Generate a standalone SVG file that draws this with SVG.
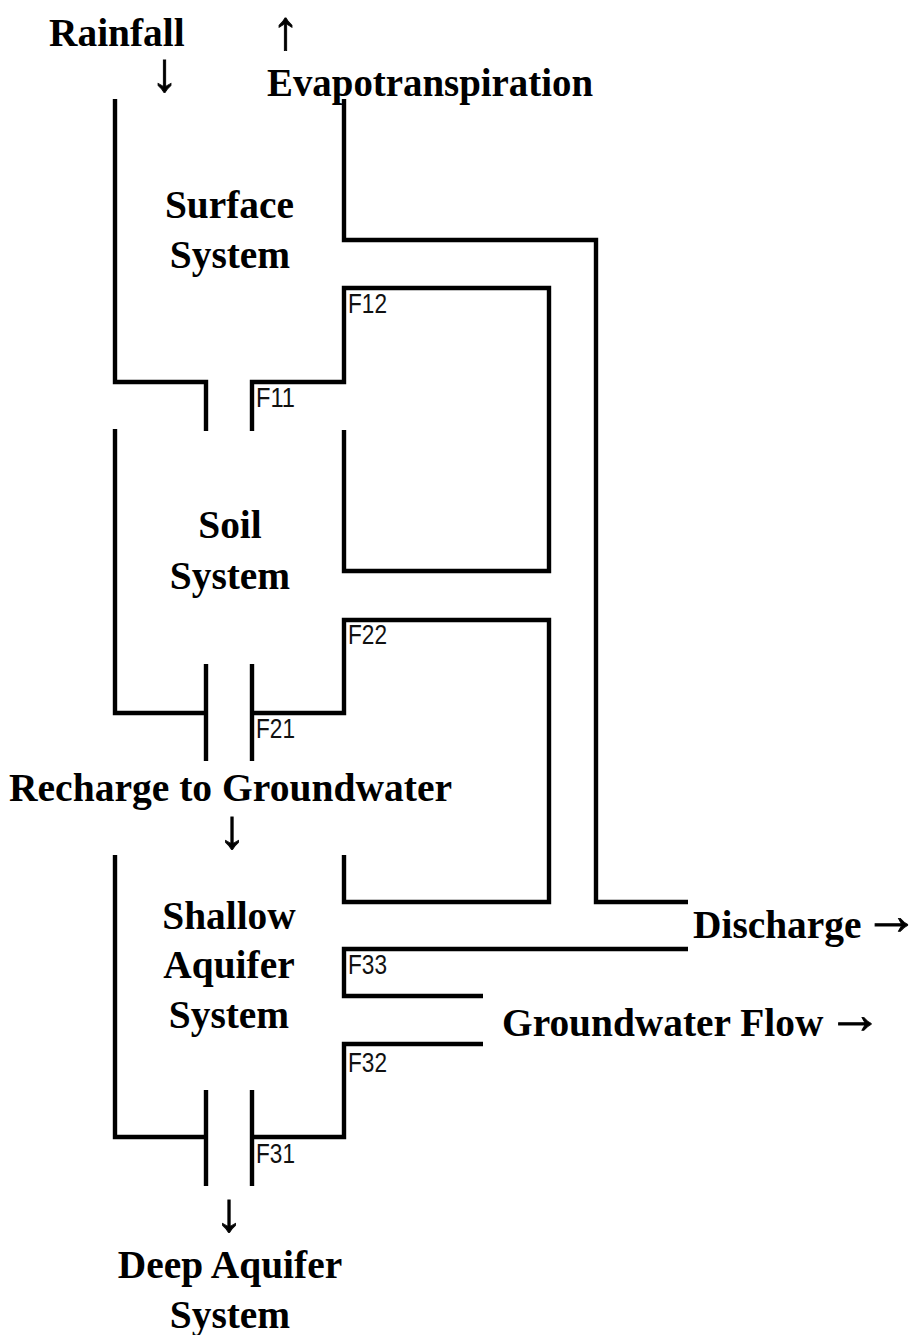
<svg xmlns="http://www.w3.org/2000/svg" width="914" height="1335" viewBox="0 0 914 1335">
<style>
.l{fill:none;stroke:#000;stroke-width:4.4;stroke-linecap:butt;stroke-linejoin:miter}
.t{font-family:"Liberation Serif",serif;font-weight:bold;font-size:39.4px;fill:#000}
.m{text-anchor:middle}
.f{font-family:"Liberation Sans",sans-serif;font-size:27px;fill:#111}
.a{font-family:"Liberation Serif",serif;font-weight:bold;font-size:55px;fill:#000;stroke:#000;stroke-width:.9;text-anchor:middle}
</style>
<rect width="914" height="1335" fill="#fff"/>
<g id="connectors">
<path class="l" d="M115 99V382H206V431"/>
<path class="l" d="M344 99V240H596V902H688"/>
<path class="l" d="M252 431V382H344V288H549V571H344V430"/>
<path class="l" d="M115 429V713H206M206 664V761"/>
<path class="l" d="M252 761V664M252 713H344V620H549V902H344V855"/>
<path class="l" d="M115 855V1137H206M206 1090V1186"/>
<path class="l" d="M252 1186V1090M252 1137H344V1044H483"/>
<path class="l" d="M688 949H344V996H483"/>
</g>
<g id="rainfall"><text class="t" x="49" y="46">Rainfall</text><text class="a" x="164.500" y="91">↓</text></g>
<g id="evapotranspiration"><text class="a" x="285.500" y="49">↑</text><text class="t" x="267" y="96" textLength="326" lengthAdjust="spacingAndGlyphs">Evapotranspiration</text></g>
<g id="surface-system"><text class="t m" x="229.500" y="218">Surface</text><text class="t m" x="230" y="268">System</text></g>
<g id="soil-system"><text class="t m" x="230" y="538">Soil</text><text class="t m" x="230" y="589">System</text></g>
<g id="recharge"><text class="t" x="9" y="801" textLength="443" lengthAdjust="spacingAndGlyphs">Recharge to Groundwater</text><text class="a" x="232" y="848">↓</text></g>
<g id="shallow-aquifer-system"><text class="t m" x="229" y="929">Shallow</text><text class="t m" x="229" y="978">Aquifer</text><text class="t m" x="229" y="1028">System</text></g>
<g id="discharge"><text class="t" x="693" y="938">Discharge</text><text class="a" x="891.500" y="934">→</text></g>
<g id="groundwater-flow"><text class="t" x="502" y="1036">Groundwater Flow</text><text class="a" x="855" y="1033">→</text></g>
<g id="deep-aquifer-system"><text class="a" x="229" y="1231">↓</text><text class="t m" x="230" y="1278">Deep Aquifer</text><text class="t m" x="230" y="1328">System</text></g>
<g id="flux-labels">
<text class="f" x="348" y="313" textLength="39" lengthAdjust="spacingAndGlyphs">F12</text><text class="f" x="256" y="407" textLength="39" lengthAdjust="spacingAndGlyphs">F11</text>
<text class="f" x="348" y="644" textLength="39" lengthAdjust="spacingAndGlyphs">F22</text><text class="f" x="256" y="738" textLength="39" lengthAdjust="spacingAndGlyphs">F21</text>
<text class="f" x="348" y="974" textLength="39" lengthAdjust="spacingAndGlyphs">F33</text><text class="f" x="348" y="1072" textLength="39" lengthAdjust="spacingAndGlyphs">F32</text><text class="f" x="256" y="1163" textLength="39" lengthAdjust="spacingAndGlyphs">F31</text>
</g>
</svg>
